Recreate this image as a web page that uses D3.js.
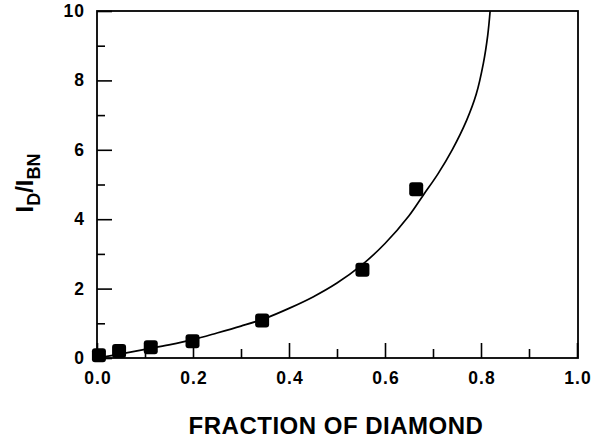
<!DOCTYPE html>
<html>
<head>
<meta charset="utf-8">
<script src="https://cdn.jsdelivr.net/npm/d3@7"></script>
<style>
  html, body { margin: 0; padding: 0; background: #fff; }
  svg { display: block; font-family: "Liberation Sans", Arial, sans-serif; }
</style>
</head>
<body>
<div id="chart"></div>
<script>
// measured points: fraction of diamond vs I_D/I_BN
const fraction = [0.004, 0.046, 0.112, 0.199, 0.344, 0.553, 0.665];
const ratio = [0.08, 0.2, 0.31, 0.48, 1.08, 2.54, 4.86];

// fitted curve
const curveX = [0, 0.05, 0.1, 0.15, 0.2, 0.25, 0.3, 0.35, 0.4, 0.45, 0.5, 0.55, 0.6, 0.65, 0.68, 0.71, 0.74, 0.77, 0.79, 0.805, 0.814, 0.819];
const curveY = [0, 0.12, 0.25, 0.38, 0.53, 0.72, 0.92, 1.14, 1.43, 1.76, 2.16, 2.66, 3.3, 4.1, 4.7, 5.3, 6.0, 6.85, 7.6, 8.5, 9.3, 10];

const xTicks = [0, 0.2, 0.4, 0.6, 0.8, 1.0];
const xMinor = [0.1, 0.3, 0.5, 0.7, 0.9];
const yTicks = [0, 2, 4, 6, 8, 10];
const yMinor = [1, 3, 5, 7, 9];

const W = 601, H = 444;
const pL = 97, pR = 577, pT = 11, pB = 358;

const svg = d3.select('#chart').append('svg').attr('width', W).attr('height', H);

const x = d3.scaleLinear().domain([0, 1]).range([pL, pR]);
const y = d3.scaleLinear().domain([0, 10]).range([pB, pT]);

// frame
svg.append('rect')
  .attr('x', pL).attr('y', pT)
  .attr('width', pR - pL + 1).attr('height', pB - pT)
  .attr('fill', 'none').attr('stroke', '#000').attr('stroke-width', 1.8);

// ticks point inward
svg.append('g').attr('transform', `translate(0,${pB})`)
  .call(d3.axisTop(x).tickValues(xTicks).tickSize(15).tickFormat(''));
svg.append('g').attr('transform', `translate(0,${pB})`)
  .call(d3.axisTop(x).tickValues(xMinor).tickSize(9).tickFormat(''));
svg.append('g').attr('transform', `translate(${pL},0)`)
  .call(d3.axisRight(y).tickValues(yTicks).tickSize(15).tickFormat(''));
svg.append('g').attr('transform', `translate(${pL},0)`)
  .call(d3.axisRight(y).tickValues(yMinor).tickSize(8).tickFormat(''));
svg.selectAll('.domain').remove();
svg.selectAll('.tick line').attr('stroke', '#000').attr('stroke-width', 1.6);

// tick labels
svg.append('g').selectAll('text').data(xTicks).join('text')
  .attr('x', d => x(d) + 1).attr('y', 384)
  .attr('text-anchor', 'middle')
  .attr('font-size', 17.5).attr('font-weight', 'bold').attr('letter-spacing', 1)
  .text(d => d.toFixed(1));
svg.append('g').selectAll('text').data(yTicks).join('text')
  .attr('x', 85).attr('y', d => y(d) + 6)
  .attr('text-anchor', 'end')
  .attr('font-size', 17.5).attr('font-weight', 'bold').attr('letter-spacing', 1)
  .text(d => d);

// axis titles
svg.append('text')
  .attr('x', 336).attr('y', 434).attr('text-anchor', 'middle')
  .attr('font-size', 24).attr('font-weight', 'bold').attr('letter-spacing', 0.5)
  .text('FRACTION OF DIAMOND');

const yt = svg.append('text')
  .attr('transform', 'translate(33,183) rotate(-90)')
  .attr('text-anchor', 'middle').attr('font-weight', 'bold');
yt.append('tspan').attr('font-size', 24).text('I');
yt.append('tspan').attr('font-size', 18).attr('dy', 7).text('D');
yt.append('tspan').attr('font-size', 24).attr('dy', -7).text('/I');
yt.append('tspan').attr('font-size', 18).attr('dy', 7).text('BN');

// curve
const line = d3.line().x(d => x(d[0])).y(d => y(d[1])).curve(d3.curveCatmullRom.alpha(0.5));
svg.append('path')
  .datum(d3.zip(curveX, curveY))
  .attr('d', line)
  .attr('fill', 'none').attr('stroke', '#000').attr('stroke-width', 1.7);

// markers
const s = 14;
svg.append('g').selectAll('rect').data(d3.zip(fraction, ratio)).join('rect')
  .attr('x', d => x(d[0]) - s / 2).attr('y', d => y(d[1]) - s / 2)
  .attr('width', s).attr('height', s).attr('rx', 3)
  .attr('fill', '#000');
</script>
</body>
</html>
